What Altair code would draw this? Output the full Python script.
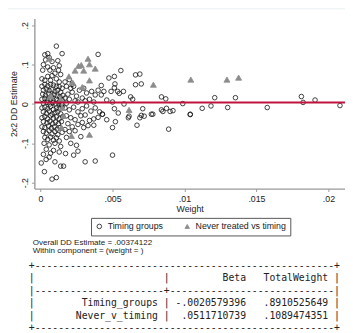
import altair as alt
import pandas as pd

# ---------------- data ----------------
groups = ["Timing groups", "Never treated vs timing"]

timing_weight = [
    0.0011, 0.0003, 0.0005, 0.0006, 0.00035, 0.0008, 0.0015, 0.0012, 0.0013, 0.00125,
    0.0002, 0.0005, 0.00015, 0.00065, 0.0009, 0.0010, 0.0008, 0.0014, 0.0001, 0.0005,
    0.0003, 0.0007, 0.0011, 0.0013, 0.0040, 0.0020, 0.0017,
    0.0001, 0.0003, 0.0005, 0.0007, 0.0009, 0.0011, 0.0013, 0.0015,
    0.0002, 0.0004, 0.0006, 0.0008, 0.0010, 0.0012, 0.0014,
    0.00015, 0.00035, 0.00055, 0.00075, 0.00095, 0.00115, 0.00135, 0.00155,
    0.0001, 0.0003, 0.0005, 0.0007, 0.0009, 0.0011, 0.0013, 0.0015,
    0.0002, 0.00045, 0.00065, 0.00085, 0.00105, 0.00125, 0.00145,
    0.0001, 0.0003, 0.0005, 0.0007, 0.0009, 0.0011, 0.0013, 0.0015,
    0.0002, 0.0004, 0.0006, 0.0008, 0.0010, 0.0012, 0.0014,
    0.0001, 0.0003, 0.0005, 0.0007, 0.0009, 0.0011, 0.0013, 0.00155,
    0.0002, 0.00045, 0.00065, 0.00085, 0.00105, 0.00125, 0.00145,
    0.0001, 0.0003, 0.00055, 0.00075, 0.00095, 0.00115, 0.00135,
    0.0002, 0.0004, 0.0006, 0.0008, 0.0010, 0.0012, 0.0015,
    0.0003, 0.0005, 0.0007, 0.0009, 0.0011, 0.0013,
    0.00025, 0.0006, 0.0010, 0.0014, 0.0004,
    0.00005, 0.00039, 0.0006, 0.00027, 0.0008, 0.0011, 0.0010, 0.0013, 0.0014, 0.0016,
    0.0007, 0.0002, 0.0009,
    0.0018, 0.0021, 0.0023, 0.0025, 0.0027, 0.0029, 0.0030, 0.0032, 0.0034, 0.00355,
    0.0038, 0.0040, 0.00422, 0.00422, 0.0044, 0.0019, 0.0022, 0.0020, 0.0024, 0.0026,
    0.0037, 0.0017, 0.0018, 0.0031, 0.0022,
    0.0017, 0.0020, 0.0023, 0.0026, 0.0029, 0.0032, 0.0035, 0.0038, 0.0041, 0.0043,
    0.0018, 0.0021, 0.0024, 0.0028, 0.0031, 0.0034, 0.0037, 0.0040, 0.0019, 0.0022,
    0.0026, 0.0029, 0.0033, 0.0037, 0.0017, 0.0020, 0.0024, 0.0028, 0.0030, 0.0018,
    0.0023, 0.0026, 0.0031, 0.0038, 0.00174, 0.0021, 0.0025,
    0.00475, 0.00513, 0.00558, 0.0066, 0.0069, 0.0066, 0.0070, 0.00517, 0.00513, 0.0049,
    0.00536, 0.00576, 0.00547, 0.00626, 0.0064, 0.0046, 0.0050, 0.0058, 0.0084, 0.0087,
    0.0071, 0.0070, 0.0077, 0.0084, 0.0085, 0.0090, 0.00513, 0.00615, 0.0054, 0.0061,
    0.0067, 0.0069, 0.0072, 0.0078, 0.0089, 0.0043, 0.0050, 0.0046, 0.0052, 0.0050,
    0.0092, 0.0104,
    0.00875, 0.00988, 0.0104, 0.01123, 0.01184, 0.0121, 0.0130, 0.01354, 0.01575, 0.01812,
    0.01824, 0.01907, 0.0208,
]
timing_beta = [
    0.147, 0.125, 0.128, 0.118, 0.112, 0.108, 0.128, 0.110, 0.097, 0.086,
    0.100, 0.094, 0.086, 0.086, 0.092, 0.078, 0.072, 0.075, 0.064, 0.070,
    0.060, 0.060, 0.064, 0.056, 0.126, 0.062, 0.056,
    0.045, 0.050, 0.046, 0.050, 0.048, 0.045, 0.044, 0.040,
    0.035, 0.038, 0.034, 0.036, 0.032, 0.035, 0.030,
    0.025, 0.022, 0.026, 0.020, 0.024, 0.020, 0.018, 0.022,
    0.012, 0.014, 0.010, 0.012, 0.008, 0.012, 0.006, 0.010,
    0.002, 0.004, 0.000, 0.003, 0.000, 0.002, -0.001,
    -0.010, -0.008, -0.012, -0.006, -0.014, -0.010, -0.012, -0.008,
    -0.020, -0.024, -0.018, -0.026, -0.022, -0.020, -0.025,
    -0.035, -0.032, -0.038, -0.030, -0.036, -0.033, -0.038, -0.032,
    -0.045, -0.048, -0.044, -0.050, -0.046, -0.050, -0.045,
    -0.058, -0.060, -0.056, -0.062, -0.058, -0.064, -0.060,
    -0.070, -0.074, -0.068, -0.076, -0.070, -0.078, -0.072,
    -0.085, -0.090, -0.084, -0.092, -0.086, -0.094,
    -0.100, -0.104, -0.100, -0.108, -0.115,
    -0.150, -0.141, -0.135, -0.172, -0.191, -0.187, -0.147, -0.122, -0.158, -0.158,
    -0.125, -0.128, -0.118,
    0.045, 0.040, 0.045, 0.020, 0.035, 0.015, 0.040, 0.028, 0.012, 0.032,
    0.023, 0.035, 0.023, 0.047, 0.032, 0.025, 0.030, 0.012, 0.008, 0.005,
    0.005, 0.015, 0.002, 0.008, 0.050,
    -0.010, -0.015, -0.008, -0.020, -0.012, -0.005, -0.018, -0.010, -0.020, -0.026,
    -0.030, -0.035, -0.040, -0.030, -0.028, -0.042, -0.038, -0.034, -0.050, -0.058,
    -0.052, -0.047, -0.055, -0.054, -0.065, -0.070, -0.068, -0.083, -0.060, -0.085,
    -0.130, -0.120, -0.147, -0.145, -0.126, -0.100, -0.105,
    0.066, 0.070, 0.085, 0.074, 0.076, 0.049, 0.051, 0.051, 0.041, 0.032,
    0.032, 0.032, 0.027, 0.018, 0.012, 0.010, 0.005, 0.000, 0.018, 0.013,
    -0.012, -0.029, -0.026, -0.015, -0.019, -0.019, -0.012, -0.031, -0.023, -0.035,
    -0.054, -0.035, -0.031, -0.026, -0.064, -0.026, -0.130, -0.040, -0.045, -0.060,
    -0.017, -0.027,
    -0.011, 0.001, -0.026, -0.011, -0.005, 0.016, -0.009, 0.016, -0.009, 0.019,
    0.004, 0.010, -0.004,
]

never_weight = [
    0.00197, 0.0024, 0.00264, 0.00283, 0.0030, 0.0033, 0.0034, 0.0038, 0.00224, 0.0034,
    0.0029, 0.0006, 0.00784, 0.00615, 0.01044, 0.01295, 0.01376, 0.00215, 0.0034, 0.0015,
    0.0016, 0.0014, 0.0007, 0.00145,
]
never_beta = [
    0.070, 0.085, 0.097, 0.099, 0.085, 0.115, 0.101, 0.090, 0.054, 0.060,
    0.043, 0.115, 0.049, -0.015, 0.062, 0.062, 0.067, -0.081, -0.078, -0.010,
    -0.030, 0.012, 0.020, -0.060,
]

overall_estimate = 0.00374122

x_ticks = [0, 0.005, 0.01, 0.015, 0.02]
y_ticks = [-0.2, -0.1, 0, 0.1, 0.2]

note_lines = ["Overall DD Estimate = .00374122", "Within component =  (weight = )"]

table_rows = [
    ("", "Beta", "TotalWeight"),
    ("Timing_groups", "-.0020579396", ".8910525649"),
    ("Never_v_timing", ".0511710739", ".1089474351"),
]

# ---------------- build tables ----------------
timing_df = pd.DataFrame({"weight": timing_weight, "beta": timing_beta,
                          "group": [groups[0]] * len(timing_weight)})
never_df = pd.DataFrame({"weight": never_weight, "beta": never_beta,
                         "group": [groups[1]] * len(never_weight)})

def fmt_row(label, c1, c2):
    return "|" + label.rjust(21) + " |" + c1.rjust(13) + "   " + c2.rjust(11) + " |"

border = "+" + "-" * 51 + "+"
sep = "|" + "-" * 22 + "+" + "-" * 28 + "|"
tbl = [border, fmt_row(*table_rows[0]), sep, fmt_row(*table_rows[1]), fmt_row(*table_rows[2]), border]
table_text = "\n".join(s.replace(" ", "\u00a0") for s in tbl)
note_text = "\n".join(note_lines)

SANS = "Liberation Sans"
GRAY = "#8c8c8c"

xscale = alt.Scale(domain=[-0.000427, 0.02115], nice=False, zero=False)
yscale = alt.Scale(domain=[-0.215, 0.217], nice=False, zero=False)
label_expr = "datum.value == 0 ? '0' : replace(toString(datum.value), '0.', '.')"

enc = dict(
    x=alt.X("weight:Q", scale=xscale,
            axis=alt.Axis(values=x_ticks, title="Weight", labelExpr=label_expr)),
    y=alt.Y("beta:Q", scale=yscale,
            axis=alt.Axis(values=y_ticks, title="2x2 DD Estimate", labelAngle=270,
                          labelAlign="center", labelBaseline="bottom", labelExpr=label_expr)),
    shape=alt.Shape("group:N", scale=alt.Scale(domain=groups, range=["circle", "triangle-up"]), title=None),
    fill=alt.Fill("group:N", scale=alt.Scale(domain=groups, range=["transparent", GRAY]), title=None),
    stroke=alt.Stroke("group:N", scale=alt.Scale(domain=groups, range=["#111111", GRAY]), title=None),
)

circles = alt.Chart(timing_df).mark_point(filled=True, strokeWidth=0.8, opacity=1, size=22).encode(**enc)
triangles = alt.Chart(never_df).mark_point(filled=True, strokeWidth=0.8, opacity=1, size=38).encode(**enc)

hline = alt.Chart(pd.DataFrame({"y": [overall_estimate]})).mark_rule(
    color="#c0143c", strokeWidth=2
).encode(y=alt.Y("y:Q", scale=yscale))

top_border = alt.Chart(pd.DataFrame({"a": [0]})).mark_rule(color="#e8f0f3", strokeWidth=1).encode(
    x=alt.value(-35), x2=alt.value(318), y=alt.value(-10)
)

notes = alt.Chart(pd.DataFrame({"t": [note_text]})).mark_text(
    font=SANS, fontSize=8.2, lineBreak="\n", lineHeight=8, align="left", baseline="top", color="#222222"
).encode(text="t:N", x=alt.value(-1.7), y=alt.value(226))

table = alt.Chart(pd.DataFrame({"t": [table_text]})).mark_text(
    font="DejaVu Sans Mono", fontSize=10, lineBreak="\n", lineHeight=12.8, align="left",
    baseline="top", color="#222222"
).encode(text="t:N", x=alt.value(-5.7), y=alt.value(248))

chart = alt.layer(top_border, circles, triangles, hline, notes, table).properties(
    width=318, height=174,
    padding={"left": 27, "top": 7, "right": 0, "bottom": 144},
    autosize=alt.AutoSizeParams(type="none"),
).configure_view(stroke=None).configure_axis(
    grid=False, domainColor="#9a9a9a", domainWidth=1.4, tickColor="#9a9a9a", tickSize=3,
    labelFont=SANS, labelFontSize=9, labelColor="#222222", labelPadding=2,
    titleFont=SANS, titleFontSize=9, titleColor="#222222", titleFontWeight="normal",
).configure_axisX(titlePadding=1, labelPadding=3).configure_axisY(titlePadding=2).configure_legend(
    orient="none", legendX=58, legendY=204, direction="horizontal",
    strokeColor="#555555", fillColor="white", padding=4, cornerRadius=0,
    symbolSize=22, symbolStrokeWidth=0.8, symbolOpacity=1,
    labelFont=SANS, labelFontSize=9, labelColor="#222222", labelOffset=4,
    columnPadding=20,
)

chart.save("out.html", embed_options={"renderer": "svg", "actions": False})
